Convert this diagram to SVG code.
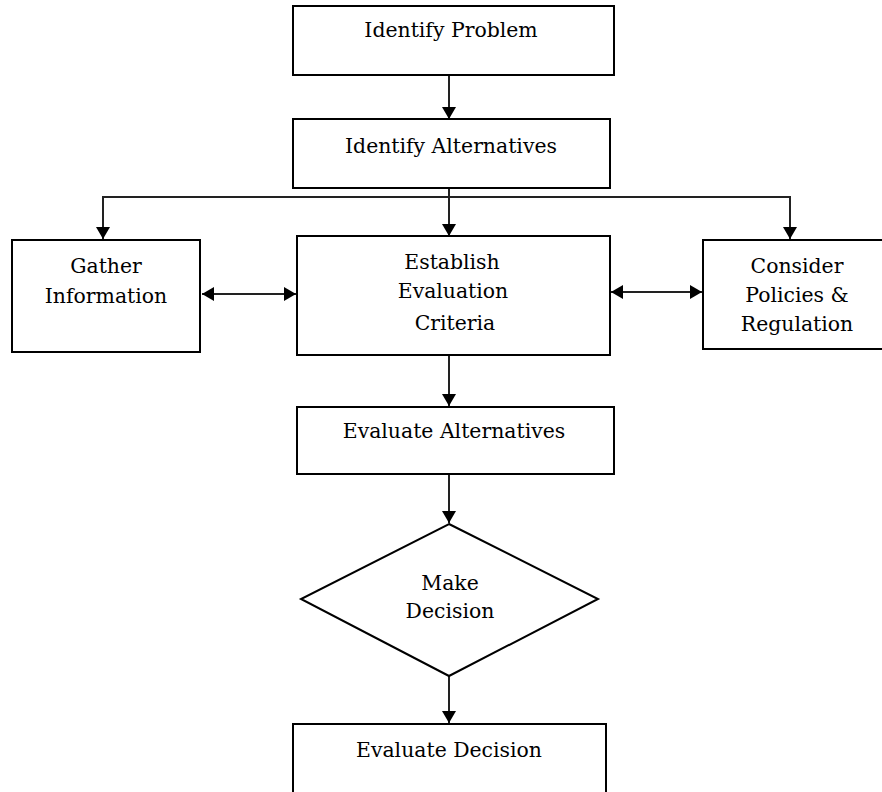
<svg xmlns="http://www.w3.org/2000/svg" width="882" height="792" viewBox="0 0 882 792">
  <style>
    .box { fill: #ffffff; stroke: #000000; stroke-width: 2; }
    .lbl { font-family: "DejaVu Serif", serif; font-size: 20.4px; fill: #000000; text-anchor: middle; }
    .wire { fill: none; stroke: #222222; stroke-width: 2; }
  </style>
  <defs>
    <marker id="head" viewBox="0 0 12 14" refX="12" refY="7" markerWidth="12" markerHeight="14" markerUnits="userSpaceOnUse" orient="auto-start-reverse">
      <path d="M0,0 L12,7 L0,14 Z" fill="#000000"/>
    </marker>
  </defs>

  <rect width="882" height="792" fill="#ffffff"/>

  <!-- connectors -->
  <g id="connectors">
    <line class="wire" x1="449" y1="75" x2="449" y2="119" marker-end="url(#head)"/>
    <line class="wire" x1="449" y1="188" x2="449" y2="236" marker-end="url(#head)"/>
    <polyline class="wire" points="103,239 103,197 790,197 790,239" marker-start="url(#head)" marker-end="url(#head)"/>
    <line class="wire" x1="202" y1="294" x2="296" y2="294" marker-start="url(#head)" marker-end="url(#head)"/>
    <line class="wire" x1="611" y1="292" x2="702" y2="292" marker-start="url(#head)" marker-end="url(#head)"/>
    <line class="wire" x1="449" y1="355" x2="449" y2="406" marker-end="url(#head)"/>
    <line class="wire" x1="449" y1="474" x2="449" y2="523" marker-end="url(#head)"/>
    <line class="wire" x1="449" y1="676" x2="449" y2="723" marker-end="url(#head)"/>
  </g>

  <g id="identify-problem">
    <rect class="box" x="293" y="6" width="321" height="69"/>
    <text class="lbl" x="451" y="37">Identify Problem</text>
  </g>

  <g id="identify-alternatives">
    <rect class="box" x="293" y="119" width="317" height="69"/>
    <text class="lbl" x="451" y="153">Identify Alternatives</text>
  </g>

  <g id="gather-information">
    <rect class="box" x="12" y="240" width="188" height="112"/>
    <text class="lbl" x="106" y="273">Gather</text>
    <text class="lbl" x="106" y="303">Information</text>
  </g>

  <g id="establish-criteria">
    <rect class="box" x="297" y="236" width="313" height="119"/>
    <text class="lbl" x="452" y="269">Establish</text>
    <text class="lbl" x="453" y="298">Evaluation</text>
    <text class="lbl" x="455" y="330">Criteria</text>
  </g>

  <g id="consider-policies">
    <rect class="box" x="703" y="240" width="190" height="109"/>
    <text class="lbl" x="797" y="273">Consider</text>
    <text class="lbl" x="797" y="302">Policies &amp;</text>
    <text class="lbl" x="797" y="331">Regulation</text>
  </g>

  <g id="evaluate-alternatives">
    <rect class="box" x="297" y="407" width="317" height="67"/>
    <text class="lbl" x="454" y="438">Evaluate Alternatives</text>
  </g>

  <g id="make-decision">
    <polygon class="box" points="449,524 598,599 449,676 301,599" stroke-width="1.6"/>
    <text class="lbl" x="450" y="590">Make</text>
    <text class="lbl" x="450" y="618">Decision</text>
  </g>

  <g id="evaluate-decision">
    <rect class="box" x="293" y="724" width="313" height="80"/>
    <text class="lbl" x="449" y="757">Evaluate Decision</text>
  </g>
</svg>
